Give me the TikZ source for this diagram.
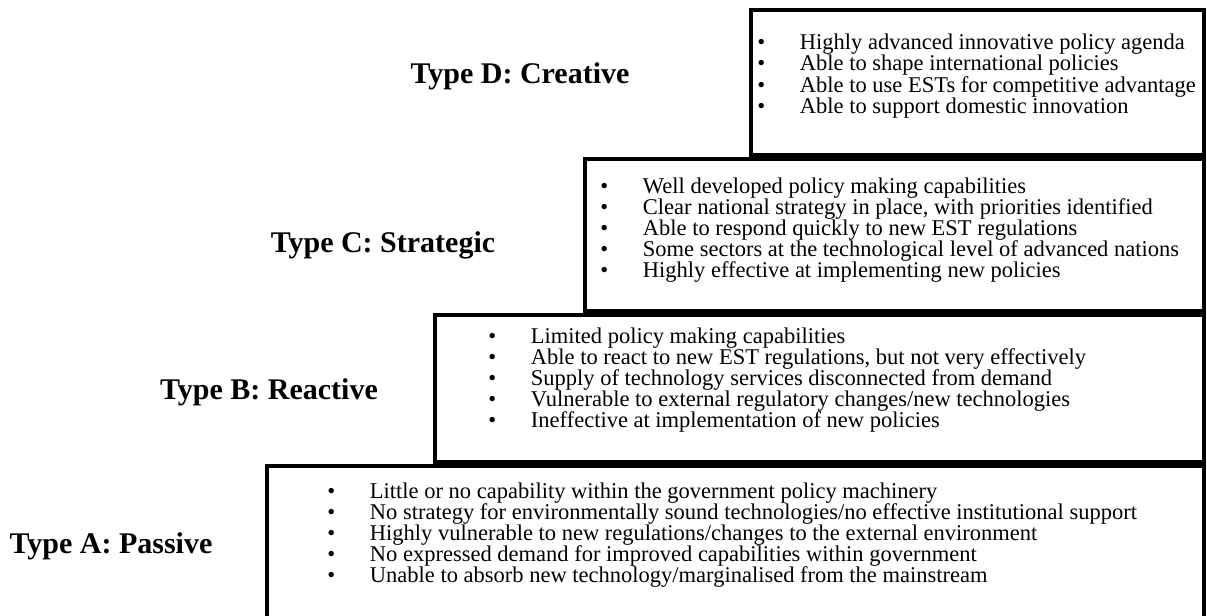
\documentclass[tikz,border=0pt]{standalone}
\usepackage{fontspec}
\setmainfont{Liberation Serif}
\usetikzlibrary{positioning}

% bullet with a fixed gap before the item text
\newcommand{\bul}{\makebox[22.7pt][l]{\textbullet}}

\begin{document}
\begin{tikzpicture}[
    x=0.5333pt, y=-0.5333pt,
    level/.style={draw, line width=2.2pt},
    items/.style={anchor=west, align=left, inner sep=0pt, font=\fontsize{12}{11.3}\selectfont},
    typelabel/.style={inner sep=0pt, font=\fontsize{16}{19}\selectfont\bfseries}
]
\useasboundingbox (0,0) rectangle (1207,615);

% Steps
\draw[level] (751,10) rectangle (1204,155);
\draw[level] (585,159) rectangle (1204,311);
\draw[level] (435,315) rectangle (1204,462);
\draw[level] (267,618) -- (267,466) -- (1204,466) -- (1204,618);

% Labels
\node[typelabel] (D) at (520,76) {Type D: Creative};
\node[typelabel] (C) at (383,245) {Type C: Strategic};
\node[typelabel] (B) at (269,392) {Type B: Reactive};
\node[typelabel] (A) at (111,546) {Type A: Passive};

% Items
\node[items] (Ditems) at (757,76) {\bul Highly advanced innovative policy agenda\\
    \bul Able to shape international policies\\
    \bul Able to use ESTs for competitive advantage\\
    \bul Able to support domestic innovation};
\node[items] (Citems) at (600,230) {\bul Well developed policy making capabilities\\
    \bul Clear national strategy in place, with priorities identified\\
    \bul Able to respond quickly to new EST regulations\\
    \bul Some sectors at the technological level of advanced nations\\
    \bul Highly effective at implementing new policies};
\node[items] (Bitems) at (488,380) {\bul Limited policy making capabilities\\
    \bul Able to react to new EST regulations, but not very effectively\\
    \bul Supply of technology services disconnected from demand\\
    \bul Vulnerable to external regulatory changes/new technologies\\
    \bul Ineffective at implementation of new policies};
\node[items] (Aitems) at (327,535) {\bul Little or no capability within the government policy machinery\\
    \bul No strategy for environmentally sound technologies/no effective institutional support\\
    \bul Highly vulnerable to new regulations/changes to the external environment\\
    \bul No expressed demand for improved capabilities within government\\
    \bul Unable to absorb new technology/marginalised from the mainstream};

\end{tikzpicture}
\end{document}
